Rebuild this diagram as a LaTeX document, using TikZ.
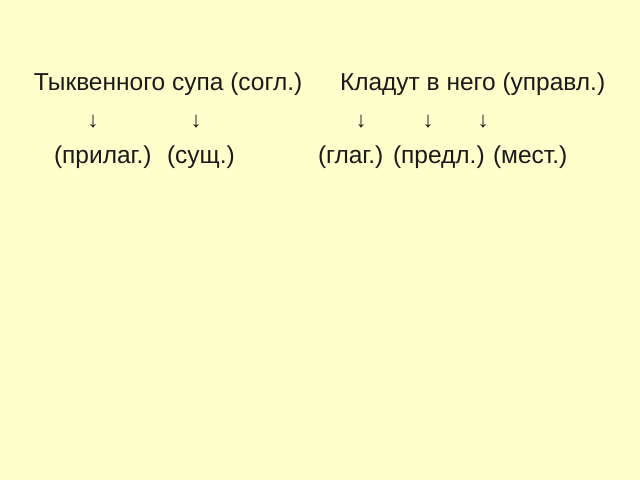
\documentclass[tikz,border=0pt]{standalone}
\usepackage{fontspec}
\setmainfont{Liberation Sans}
\definecolor{bg}{HTML}{FFFFCC}
\definecolor{ink}{HTML}{1A1A1A}
\tikzset{
  txt/.style={anchor=base west, inner sep=0pt, outer sep=0pt, text=ink, font=\fontsize{24.5}{28}\selectfont},
  arr/.style={anchor=base, inner sep=0pt, outer sep=0pt, text=ink, font=\fontsize{22}{26}\selectfont}
}
\begin{document}
\begin{tikzpicture}[x=1pt,y=1pt]
\fill[bg] (0,0) rectangle (640,480);
\useasboundingbox (0,0) rectangle (640,480);
% row 1
\node[txt] (s1) at (34,389) {Тыквенного супа (согл.)};
\node[txt] (s2) at (340,389) {Кладут в него (управл.)};
% row 2: arrows
\node[arr] (a1) at (93,352) {↓};
\node[arr] (a2) at (196,352) {↓};
\node[arr] (a3) at (361,352) {↓};
\node[arr] (a4) at (428,352) {↓};
\node[arr] (a5) at (483,352) {↓};
% row 3
\node[txt] (p1) at (54,316) {(прилаг.)};
\node[txt] (p2) at (167,316) {(сущ.)};
\node[txt] (p3) at (318,316) {(глаг.)};
\node[txt] (p4) at (393,316) {(предл.)};
\node[txt] (p5) at (493,316) {(мест.)};
\end{tikzpicture}
\end{document}
